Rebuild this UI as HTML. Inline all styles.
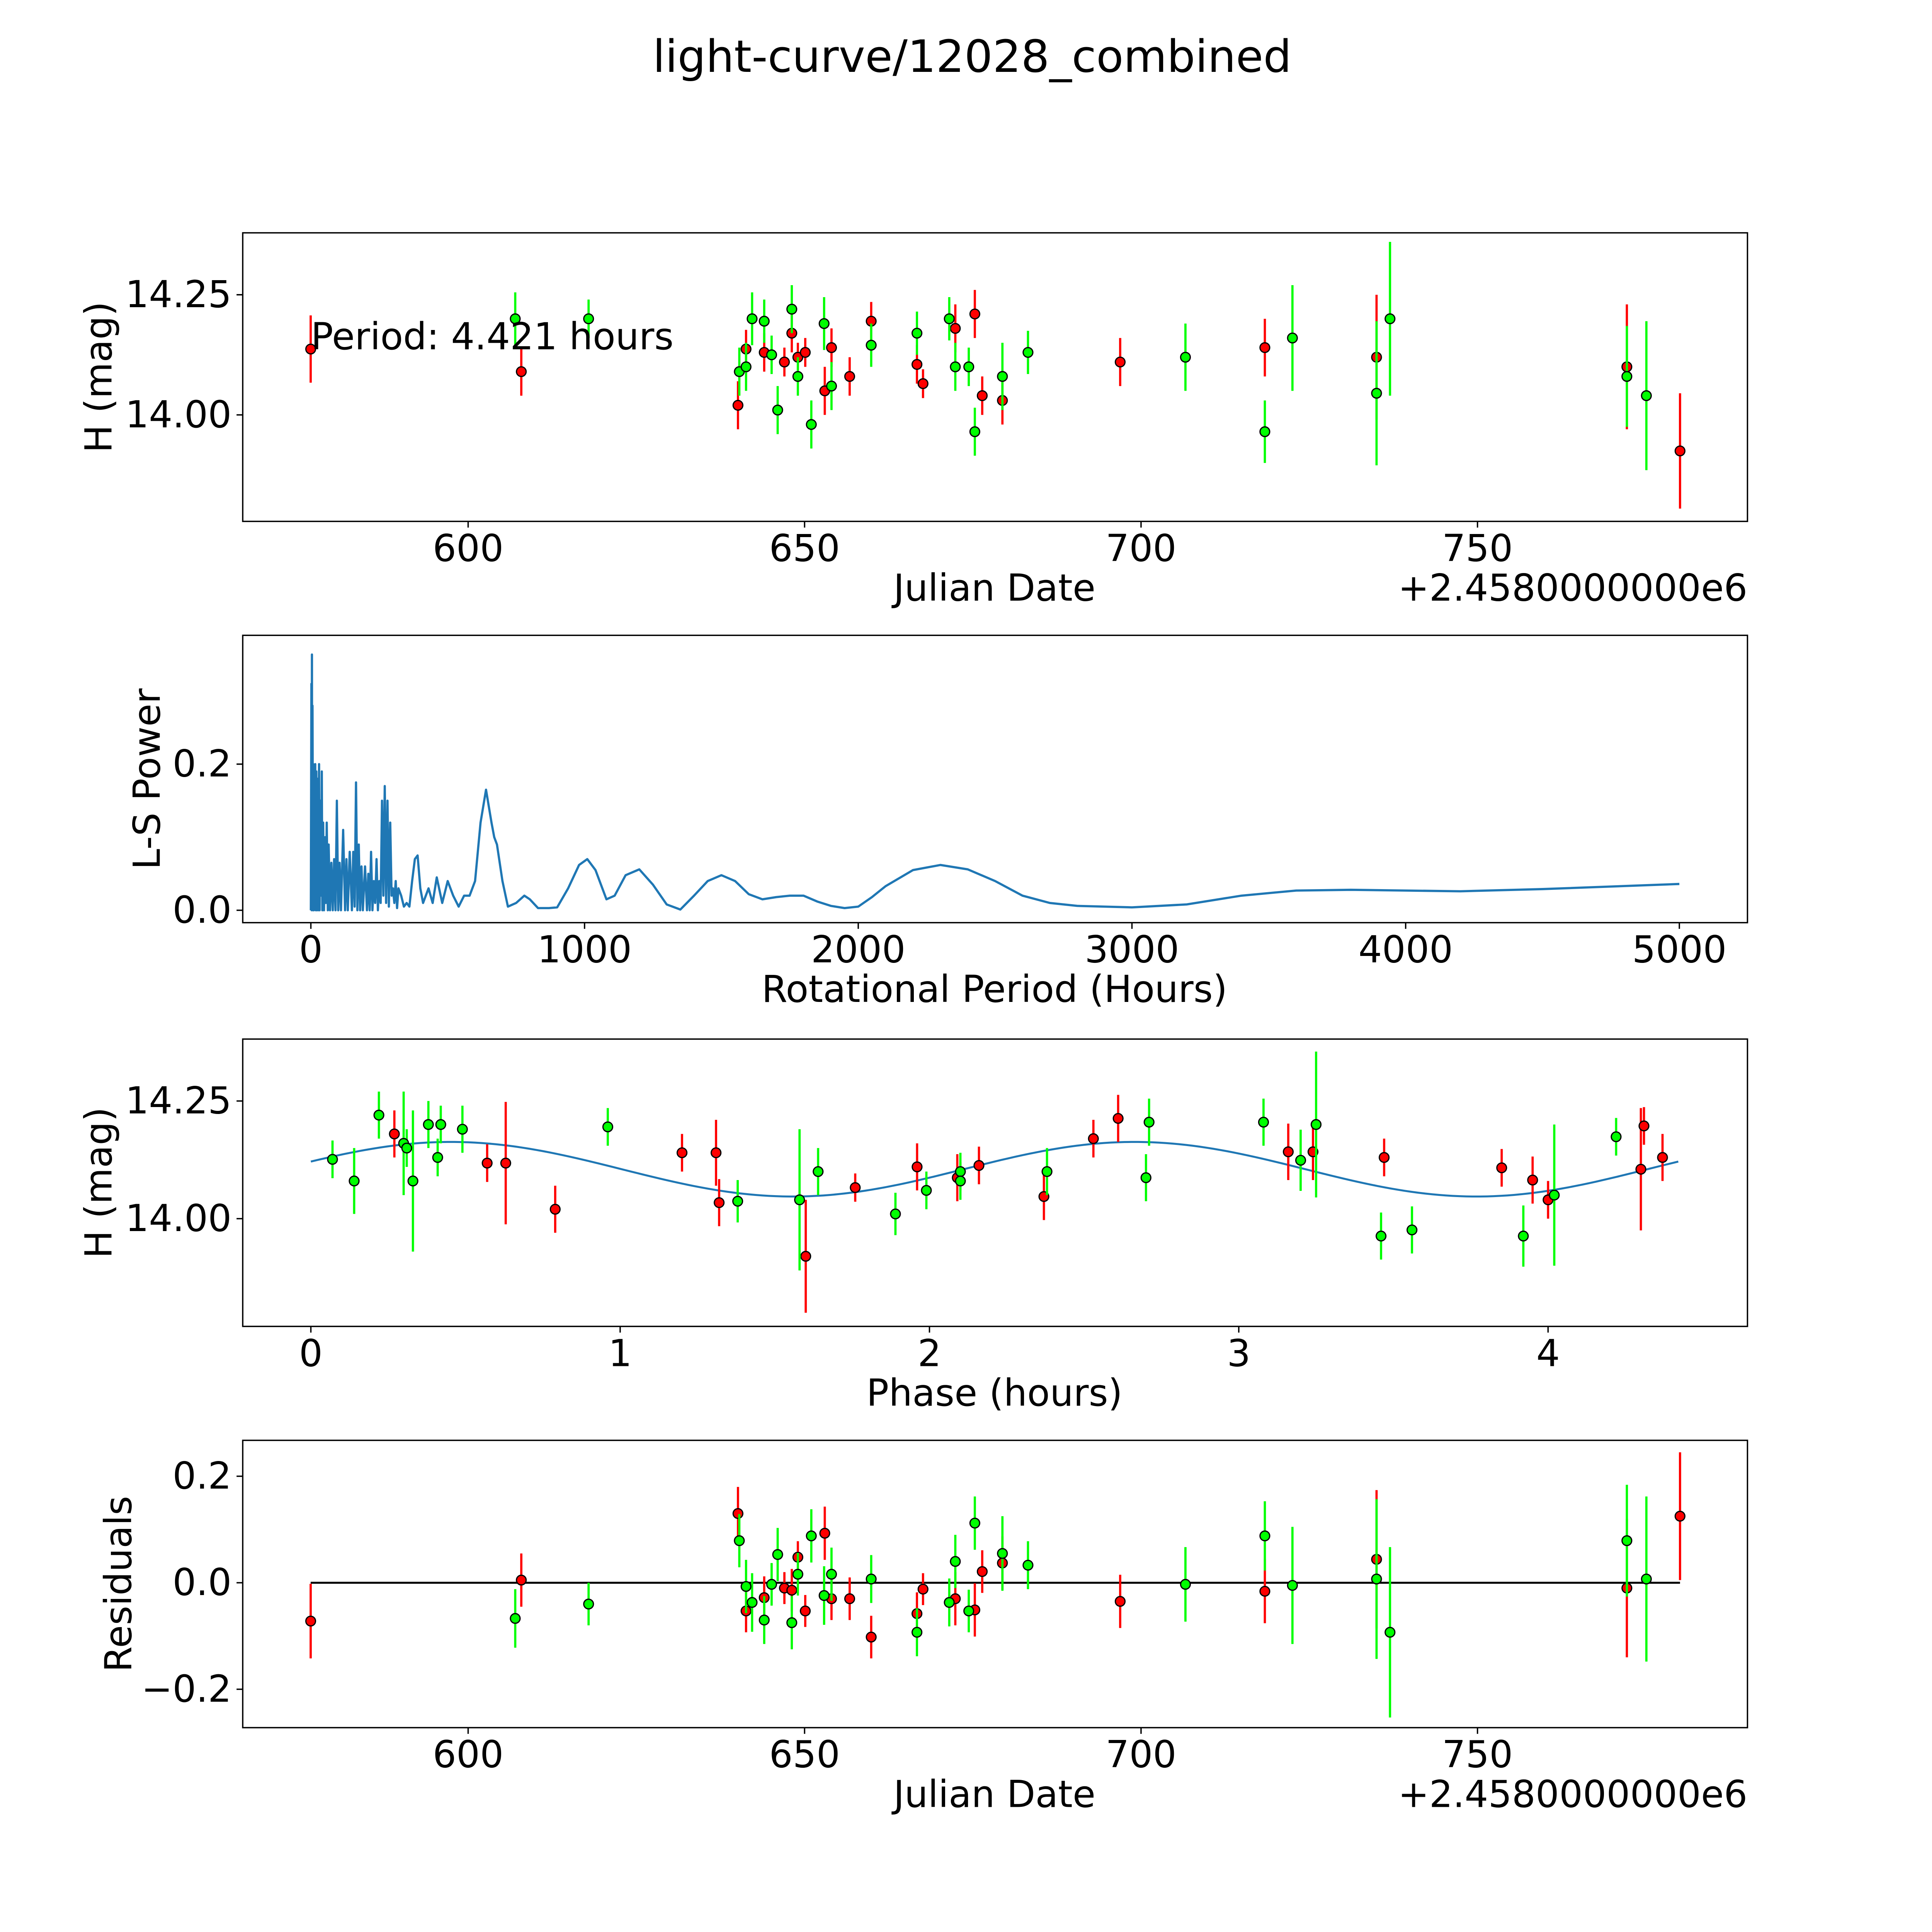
<!DOCTYPE html>
<html><head><meta charset="utf-8"><title>light-curve/12028_combined</title>
<style>html,body{margin:0;padding:0;background:#fff;width:100%;height:100%;overflow:hidden}svg{display:block;position:fixed;left:0;top:0;width:100vw;height:100vh}text{font-family:"DejaVu Sans","Liberation Sans",sans-serif;fill:#000}</style>
</head><body>
<svg id="fig" viewBox="0 0 1560 1560" preserveAspectRatio="none" xmlns="http://www.w3.org/2000/svg">
<rect width="1560" height="1560" fill="#fff"/>
<text x="785" y="58" font-size="36" text-anchor="middle">light-curve/12028_combined</text>
</svg>
<script>
// ---- data ----
const redJD=[576.6,607.9,640.1,641.3,644.0,647.0,648.1,649.0,650.1,653.0,654.0,656.7,659.9,666.7,667.6,672.4,675.3,676.4,679.4,696.9,718.4,735.0,772.2,780.1];
const redMag=[14.137,14.09,14.02,14.137,14.13,14.11,14.17,14.12,14.13,14.05,14.14,14.08,14.195,14.105,14.065,14.18,14.21,14.04,14.03,14.11,14.14,14.12,14.10,13.925];
const redErr=[0.07,0.05,0.05,0.04,0.04,0.03,0.04,0.03,0.03,0.05,0.04,0.04,0.04,0.04,0.03,0.05,0.05,0.04,0.05,0.05,0.06,0.13,0.13,0.12];
const grnJD=[607.0,617.9,640.3,641.3,642.2,644.0,645.1,646.0,648.1,649.0,651.0,652.9,654.0,659.9,666.7,671.5,672.4,674.4,675.3,679.4,683.2,706.6,718.4,722.5,735.0,737.0,772.2,775.1];
const grnMag=[14.20,14.20,14.09,14.10,14.20,14.195,14.125,14.01,14.22,14.08,13.98,14.19,14.06,14.145,14.17,14.20,14.10,14.10,13.965,14.08,14.13,14.12,13.965,14.16,14.045,14.20,14.08,14.04];
const grnErr=[0.055,0.04,0.05,0.05,0.055,0.045,0.04,0.05,0.05,0.04,0.05,0.055,0.05,0.045,0.045,0.045,0.05,0.04,0.05,0.07,0.045,0.07,0.065,0.11,0.15,0.16,0.105,0.155];
const redPhase=[0.27,0.57,0.63,0.79,1.20,1.31,1.32,1.60,1.76,1.96,2.09,2.16,2.37,2.53,2.61,3.16,3.24,3.47,3.85,3.95,4.00,4.30,4.31,4.37];
const redPhMag=[14.18,14.118,14.118,14.02,14.14,14.14,14.034,13.92,14.066,14.11,14.087,14.113,14.047,14.17,14.213,14.142,14.142,14.13,14.108,14.082,14.04,14.105,14.197,14.13];
const redPhErr=[0.05,0.04,0.13,0.05,0.04,0.07,0.05,0.12,0.03,0.05,0.05,0.04,0.05,0.04,0.05,0.06,0.06,0.04,0.04,0.05,0.04,0.13,0.04,0.05];
const grnPhase=[0.07,0.14,0.22,0.30,0.31,0.33,0.38,0.41,0.42,0.49,0.96,1.38,1.58,1.64,1.89,1.99,2.10,2.10,2.38,2.70,2.71,3.08,3.20,3.25,3.46,3.56,3.92,4.02,4.22];
const grnPhMag=[14.126,14.08,14.22,14.16,14.15,14.08,14.20,14.13,14.20,14.19,14.195,14.037,14.04,14.10,14.01,14.06,14.10,14.08,14.10,14.087,14.205,14.205,14.124,14.20,13.963,13.976,13.963,14.05,14.174];
const grnPhErr=[0.04,0.07,0.05,0.11,0.04,0.15,0.05,0.04,0.04,0.05,0.04,0.045,0.15,0.05,0.045,0.04,0.04,0.04,0.05,0.05,0.05,0.05,0.065,0.155,0.05,0.05,0.065,0.15,0.04];
const redRes=[-0.072,0.005,0.13,-0.053,-0.028,-0.01,-0.014,0.048,-0.053,0.093,-0.03,-0.03,-0.102,-0.058,-0.012,-0.03,-0.051,0.021,0.037,-0.035,-0.016,0.044,-0.01,0.125];
const grnRes=[-0.067,-0.04,0.079,-0.007,-0.037,-0.07,-0.003,0.053,-0.075,0.016,0.088,-0.024,0.016,0.007,-0.093,-0.037,0.04,-0.053,0.112,0.055,0.033,-0.003,0.088,-0.005,0.007,-0.093,0.079,0.007];
const spikePeriod=[0,2,3,4,5,6,8,9,11,12,14,16,18,20,22,25,27,30,32,35,38,40,42,45,48,52,55,58,62,65,70,75,80,85,90,95,100,105,110,118,125,130,135,142,150,155,160,165,170,175,180,185,190,198,205,210,215,220,225,230,235,240,245,250,255,260,265,270,275,280,285,290,295,300,305,310,315,320];
const spikePower=[0,0.31,0,0.35,0.02,0.28,0,0.2,0,0.19,0.01,0.2,0,0.19,0,0.18,0,0.2,0,0.15,0.02,0.19,0,0.12,0,0.1,0.01,0.12,0,0.09,0,0.065,0,0.07,0,0.15,0,0.065,0,0.11,0,0.07,0,0.08,0,0.08,0.005,0.175,0,0.09,0,0.06,0,0.06,0,0.05,0,0.08,0,0.04,0.01,0.07,0,0.04,0.01,0.15,0.02,0.17,0.01,0.15,0.005,0.12,0.02,0.03,0.01,0.04,0.003,0.03];
const smoothPeriod=[330,340,350,360,370,380,390,400,410,420,430,445,460,480,500,520,540,560,580,600,620,640,660,670,680,700,720,750,780,800,830,870,900,940,980,1010,1040,1080,1110,1150,1200,1250,1300,1350,1400,1450,1500,1550,1600,1650,1700,1750,1800,1850,1900,1950,2000,2050,2100,2200,2300,2400,2500,2600,2700,2800,3000,3200,3400,3600,3800,4000,4200,4500,5000];
const smoothPower=[0.02,0.005,0.01,0.005,0.04,0.07,0.075,0.03,0.01,0.02,0.03,0.01,0.045,0.01,0.04,0.02,0.005,0.02,0.02,0.04,0.12,0.165,0.12,0.1,0.09,0.04,0.005,0.01,0.02,0.015,0.003,0.003,0.004,0.03,0.062,0.07,0.055,0.015,0.02,0.048,0.056,0.035,0.008,0.001,0.02,0.04,0.048,0.04,0.022,0.015,0.018,0.02,0.02,0.012,0.006,0.003,0.005,0.018,0.033,0.055,0.062,0.056,0.04,0.02,0.01,0.006,0.004,0.008,0.02,0.027,0.028,0.027,0.026,0.029,0.036];
const jdTicks=[600,650,700,750];
const magTicks=[14.00,14.25];
const lsXTicks=[0,1000,2000,3000,4000,5000];
const lsYTicks=[0.0,0.2];
const phTicks=[0,1,2,3,4];
const resTicks=[-0.2,0.0,0.2];
const modelMean=14.105, modelAmp=0.058, modelHalfPeriod=2.2105, modelShift=-0.10, phaseMax=4.421;

// ---- helpers ----
const NS='http://www.w3.org/2000/svg';
const svg=document.getElementById('fig');
function mk(tag,attrs,parent){const e=document.createElementNS(NS,tag);for(const k in attrs)e.setAttribute(k,attrs[k]);(parent||svg).appendChild(e);return e;}
function lin(d0,d1,p0,p1){return v=>p0+(v-d0)*(p1-p0)/(d1-d0);}
function fmt(v,dec){let s=v.toFixed(dec);if(v<0)s='\u2212'+(-v).toFixed(dec);return s;}

function axes(name,top,bottom,xs,ys,xt,yt,xdec,ydec,xlabel,ylabel,offset){
  const g=mk('g',{});
  
  
  const fr=mk('rect',{x:196,y:top,width:1215,height:bottom-top,fill:'none',stroke:'#000','stroke-width':1.1},g);
  
  
  xt.forEach(v=>{const x=xs(v);mk('line',{x1:x,x2:x,y1:bottom,y2:bottom+5,stroke:'#000','stroke-width':1.1},g);
    const t=mk('text',{x:x,y:bottom+32,'font-size':30,'text-anchor':'middle'},g);t.textContent=fmt(v,xdec);
    
    });
  yt.forEach(v=>{const y=ys(v);mk('line',{x1:191,x2:196,y1:y,y2:y,stroke:'#000','stroke-width':1.1},g);
    const t=mk('text',{x:187,y:y+10,'font-size':30,'text-anchor':'end'},g);t.textContent=fmt(v,ydec);
    
    });
  const xl=mk('text',{x:803,y:bottom+64,'font-size':30,'text-anchor':'middle'},g);xl.textContent=xlabel;
  
  
  const yc=(top+bottom)/2, yx=ylabel==='L-S Power'?129:ylabel==='Residuals'?106:90;
  const yl=mk('text',{x:yx,y:yc,'font-size':30,'text-anchor':'middle',transform:`rotate(-90 ${yx} ${yc})`},g);yl.textContent=ylabel;
  
  
  if(offset){const o=mk('text',{x:1411,y:bottom+64,'font-size':30,'text-anchor':'end'},g);o.textContent=offset;
    
    }
  return g;
}
function points(g,xs,ys,X,Y,E,color,nm){
  X.forEach((xv,i)=>{const x=xs(xv);
    const l=mk('line',{x1:x,x2:x,y1:ys(Y[i]-E[i]),y2:ys(Y[i]+E[i]),stroke:color,'stroke-width':1.8},g);
    
    });
  X.forEach((xv,i)=>{
    const c=mk('circle',{cx:xs(xv),cy:ys(Y[i]),r:3.9,fill:color,stroke:'#000','stroke-width':1},g);
    
    });
}

// Panel 1
const jx=lin(600,750,378,1193);
const m1=lin(14.0,14.25,335,238);
const g1=axes('light-curve-panel',188,421,jx,m1,jdTicks,magTicks,0,2,'Julian Date','H (mag)','+2.4580000000e6');
points(g1,jx,m1,redJD,redMag,redErr,'#ff0000','red');
points(g1,jx,m1,grnJD,grnMag,grnErr,'#00ff00','green');
const pt=mk('text',{x:251,y:282,'font-size':30},g1);pt.textContent='Period: 4.421 hours';



// Panel 2
const px=lin(0,5000,251,1356);
const py=lin(0,0.2,735,617);
const g2=axes('periodogram-panel',513,745,px,py,lsXTicks,lsYTicks,0,1,'Rotational Period (Hours)','L-S Power');
const allP=spikePeriod.concat(smoothPeriod), allV=spikePower.concat(smoothPower);
let d='';allP.forEach((p,i)=>{d+=(i?'L':'M')+px(p).toFixed(2)+' '+py(allV[i]).toFixed(2);});
const lp=mk('path',{d:d,fill:'none',stroke:'#1f77b4','stroke-width':1.8,'stroke-linejoin':'round'},g2);



// Panel 3
const fx=lin(0,4,251,1250);
const fy=lin(14.0,14.25,984,889);
const g3=axes('phase-panel',839,1071,fx,fy,phTicks,magTicks,0,2,'Phase (hours)','H (mag)');
let md='';for(let i=0;i<=200;i++){const t=phaseMax*i/200;const v=modelMean+modelAmp*Math.sin(2*Math.PI*(t-modelShift)/modelHalfPeriod);md+=(i?'L':'M')+fx(t).toFixed(2)+' '+fy(v).toFixed(2);}
const ml=mk('path',{d:md,fill:'none',stroke:'#1f77b4','stroke-width':1.6},g3);


points(g3,fx,fy,redPhase,redPhMag,redPhErr,'#ff0000','red-phase');
points(g3,fx,fy,grnPhase,grnPhMag,grnPhErr,'#00ff00','green-phase');

// Panel 4
const ry=lin(0,0.2,1278,1192);
const g4=axes('residuals-panel',1163,1395,jx,ry,jdTicks,resTicks,0,1,'Julian Date','Residuals','+2.4580000000e6');
const zl=mk('line',{x1:jx(576.6),x2:jx(780.1),y1:ry(0),y2:ry(0),stroke:'#000','stroke-width':1.6},g4);


points(g4,jx,ry,redJD,redRes,redErr,'#ff0000','red-residual');
points(g4,jx,ry,grnJD,grnRes,grnErr,'#00ff00','green-residual');
</script>
</body></html>
